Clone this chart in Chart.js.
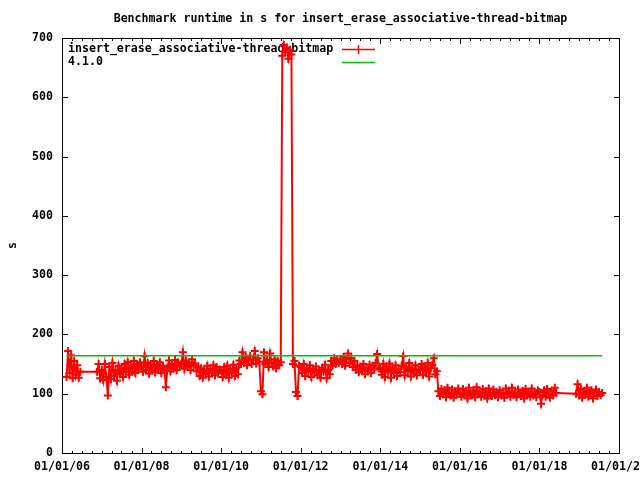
<!DOCTYPE html>
<html>
<head>
<meta charset="utf-8">
<script src="https://cdn.jsdelivr.net/npm/chart.js@4.4.0/dist/chart.umd.min.js"></script>
<style>
html, body { margin: 0; padding: 0; background: #fff; }
#wrap { width: 640px; height: 480px; }
</style>
</head>
<body>
<div id="wrap"><canvas id="benchChart" width="640" height="480"></canvas></div>
<script>
// runtime in s, one sample every 14 days starting 1 Jan of each year (null = no run)
var run2006 = [null, null, null, 128, 172, 135, 165, 126, 155, 132, 148, 127, 137, null, null, null, null, null, null, null, null, null, null, 137, 150, 126];
var run2007 = [140, 123, 150, 128, 97, 145, 125, 152, 130, 140, 122, 147, 133, 143, 128, 150, 137, 153, 132, 148, 138, 155, 135, 150, 141, 153];
var run2008 = [145, 137, 163, 140, 152, 134, 148, 139, 155, 136, 149, 141, 153, 135, 147, 140, 111, 144, 156, 138, 151, 142, 157, 140, 153, 146];
var run2009 = [150, 170, 142, 156, 145, 153, 140, 158, 147, 151, 138, 146, 130, 143, 127, 140, 133, 147, 129, 142, 135, 148, 131, 145, 134, 141];
var run2010 = [140, 128, 145, 132, 147, 127, 142, 135, 149, 130, 144, 133, 156, 150, 170, 152, 162, 148, 158, 164, 150, 157, 172, 151, 160, 154];
var run2011 = [104, 99, 170, 150, 157, 145, 168, 152, 146, 158, 143, 155, 148, 153, 670, 688, 676, 684, 665, 680, 672, 150, 155, 103, 96, 147];
var run2012 = [145, 135, 150, 130, 143, 138, 148, 128, 142, 136, 146, 131, 140, 127, 144, 137, 149, 126, 140, 133, 155, 147, 160, 150, 158, 152];
var run2013 = [157, 150, 162, 147, 158, 168, 152, 160, 145, 155, 140, 148, 136, 146, 139, 150, 133, 144, 138, 149, 135, 147, 141, 152, 167, 143];
var run2014 = [142, 132, 150, 128, 146, 137, 151, 127, 143, 135, 148, 130, 141, 136, 147, 163, 131, 145, 138, 152, 129, 143, 134, 148, 131, 140];
var run2015 = [140, 150, 132, 146, 136, 152, 129, 143, 148, 160, 133, 138, 104, 96, 108, 99, 106, 94, 110, 101, 97, 107, 93, 104, 99, 109];
var run2016 = [101, 95, 108, 98, 105, 92, 110, 100, 97, 106, 94, 111, 99, 103, 95, 108, 97, 104, 92, 109, 100, 96, 107, 98, 103, 94];
var run2017 = [106, 97, 101, 93, 109, 99, 104, 95, 110, 98, 102, 94, 107, 100, 96, 105, 92, 108, 99, 103, 95, 109, 97, 101, 94, 106];
var run2018 = [103, 83, 98, 106, 95, 108, 100, 93, 105, 97, 110, 101, null, null, null, null, null, null, null, null, null, null, null, null, 100, 116];
var run2019 = [97, 108, 93, 104, 99, 110, 95, 102, 106, 92, 101, 107, 96, 103, 98, 101];

var baselineS = 164;   // 4.1.0 reference runtime
var xTickYears = [2006, 2008, 2010, 2012, 2014, 2016, 2018, 2020];
var yTicks = [0, 100, 200, 300, 400, 500, 600, 700];

var chartTitle = 'Benchmark runtime in s for insert_erase_associative-thread-bitmap';
var seriesName = 'insert_erase_associative-thread-bitmap';
var baselineName = '4.1.0';

var DAY = 86400000;
var monoFont = '"DejaVu Sans Mono", monospace';

// turn the yearly arrays into {x: time, y: s}
function buildRuns() {
    var years = [[2006, run2006], [2007, run2007], [2008, run2008], [2009, run2009], [2010, run2010],
                 [2011, run2011], [2012, run2012], [2013, run2013], [2014, run2014], [2015, run2015],
                 [2016, run2016], [2017, run2017], [2018, run2018], [2019, run2019]];
    var pts = [];
    years.forEach(function (yr) {
        yr[1].forEach(function (v, i) {
            pts.push({x: Date.UTC(yr[0], 0, 1) + i * 14 * DAY, y: v});
        });
    });
    return pts;
}

var runs = buildRuns();
var measured = runs.filter(function (p) { return p.y !== null; });
var baseline = [
    {x: measured[0].x, y: baselineS},
    {x: measured[measured.length - 1].x, y: baselineS}
];

// gnuplot look: border, inward ticks, title and key
var gnuplotFrame = {
    id: 'gnuplotFrame',
    beforeDatasetsDraw: function (chart) {
        var ctx = chart.ctx, a = chart.chartArea;
        var xs = chart.scales.x, ys = chart.scales.y;
        ctx.save();
        ctx.strokeStyle = '#000';
        ctx.lineWidth = 1;
        ctx.beginPath();
        ctx.rect(a.left + 0.5, a.top + 0.5, a.right - a.left, a.bottom - a.top);
        // y ticks, left and right
        yTicks.forEach(function (v) {
            var py = Math.round(ys.getPixelForValue(v)) + 0.5;
            ctx.moveTo(a.left, py); ctx.lineTo(a.left + 6, py);
            ctx.moveTo(a.right + 1, py); ctx.lineTo(a.right - 5, py);
        });
        // x ticks, quarterly minors, majors every 2 years
        for (var y = 2006; y <= 2020; y++) {
            for (var m = 0; m < 12; m += 3) {
                if (y === 2020 && m > 0) break;
                var len = (m === 0 && xTickYears.indexOf(y) >= 0) ? 6 : 3;
                var px = Math.round(xs.getPixelForValue(Date.UTC(y, m, 1))) + 0.5;
                ctx.moveTo(px, a.bottom + 1); ctx.lineTo(px, a.bottom + 1 - len);
                ctx.moveTo(px, a.top); ctx.lineTo(px, a.top + len);
            }
        }
        ctx.stroke();

        ctx.fillStyle = '#000';
        ctx.font = 'bold 11.6px ' + monoFont;
        ctx.textBaseline = 'middle';
        ctx.textAlign = 'center';
        ctx.fillText(chartTitle, (a.left + a.right) / 2, 19);

        // key
        ctx.textAlign = 'left';
        ctx.fillText(seriesName, 68, 49);
        ctx.fillText(baselineName, 68, 62);
        ctx.lineWidth = 1.5;
        ctx.beginPath();
        ctx.strokeStyle = '#ff0000';
        ctx.moveTo(342, 49.5); ctx.lineTo(375, 49.5);
        ctx.moveTo(358.5, 45); ctx.lineTo(358.5, 54);
        ctx.stroke();
        ctx.beginPath();
        ctx.strokeStyle = '#00c000';
        ctx.moveTo(342, 62.5); ctx.lineTo(375, 62.5);
        ctx.stroke();
        ctx.restore();
    }
};

var tickFont = {family: monoFont, size: 11.6, weight: 'bold'};

new Chart(document.getElementById('benchChart'), {
    type: 'line',
    data: {
        datasets: [{
            label: seriesName,
            data: runs,
            borderColor: '#ff0000',
            backgroundColor: '#ff0000',
            borderWidth: 2,
            pointStyle: 'cross',
            pointRadius: 4,
            pointBorderWidth: 2,
            spanGaps: true,
            tension: 0,
            fill: false,
            order: 2
        }, {
            label: baselineName,
            data: baseline,
            borderColor: '#00c000',
            borderWidth: 1.5,
            pointRadius: 0,
            fill: false,
            order: 1
        }]
    },
    options: {
        responsive: false,
        animation: false,
        events: [],
        layout: {padding: {top: 38, right: 21, bottom: 0, left: 0}},
        plugins: {
            legend: {display: false},
            title: {display: false},
            tooltip: {enabled: false}
        },
        scales: {
            x: {
                type: 'linear',
                min: Date.UTC(2006, 0, 1),
                max: Date.UTC(2020, 0, 1),
                grid: {display: false, drawTicks: false},
                border: {display: false},
                afterBuildTicks: function (s) {
                    s.ticks = xTickYears.map(function (y) { return {value: Date.UTC(y, 0, 1)}; });
                },
                afterFit: function (s) {
                    s.height = 27;
                    s.paddingLeft = 0;
                    s.paddingRight = 0;
                },
                ticks: {
                    autoSkip: false,
                    maxRotation: 0,
                    padding: 7,
                    color: '#000',
                    font: tickFont,
                    callback: function (v) {
                        return '01/01/' + String(new Date(v).getUTCFullYear()).slice(2);
                    }
                }
            },
            y: {
                min: 0,
                max: 700,
                grid: {display: false, drawTicks: false},
                border: {display: false},
                afterBuildTicks: function (s) {
                    s.ticks = yTicks.map(function (v) { return {value: v}; });
                },
                afterFit: function (s) {
                    s.width = 62;
                    s.paddingTop = 0;
                    s.paddingBottom = 0;
                },
                ticks: {
                    padding: 9,
                    color: '#000',
                    font: tickFont,
                    callback: function (v) { return String(v); }
                },
                title: {
                    display: true,
                    text: 's',
                    color: '#000',
                    font: tickFont,
                    padding: {top: 6, bottom: 0}
                }
            }
        }
    },
    plugins: [gnuplotFrame]
});
</script>
</body>
</html>
